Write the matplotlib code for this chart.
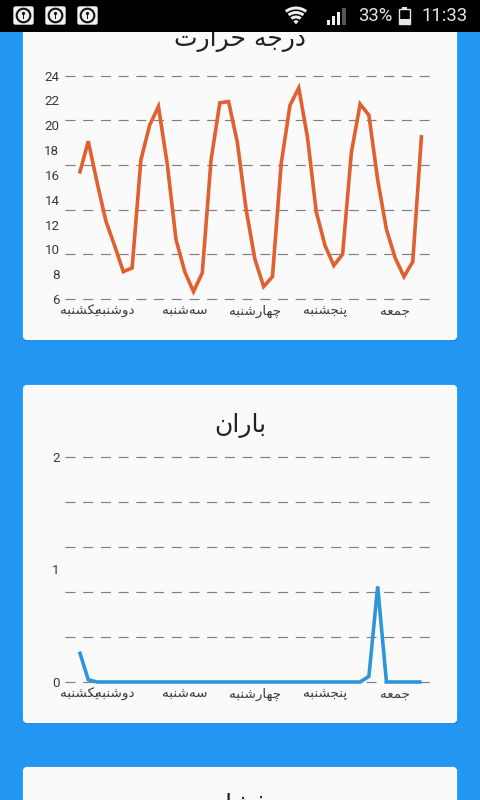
import matplotlib
matplotlib.use("Agg")
import matplotlib.pyplot as plt
from matplotlib.patches import Rectangle, FancyBboxPatch, Circle, Wedge
import numpy as np

# Weather forecast, one reading every three hours over five days
temperature = [16.1, 18.7, 15.4, 12.3, 10.3, 8.2, 8.5, 17.2,
               20.0, 21.5, 16.9, 10.8, 8.2, 6.6, 8.1, 17.2,
               21.8, 21.9, 18.6, 13.2, 9.2, 7.0, 7.8, 16.9,
               21.6, 23.0, 19.0, 13.0, 10.3, 8.7, 9.6, 17.8,
               21.7, 20.8, 15.6, 11.6, 9.3, 7.8, 9.0, 19.2]
rain = [0.27, 0.02, 0, 0, 0, 0, 0, 0,
        0, 0, 0, 0, 0, 0, 0, 0,
        0, 0, 0, 0, 0, 0, 0, 0,
        0, 0, 0, 0, 0, 0, 0, 0,
        0, 0.05, 0.85, 0, 0, 0, 0, 0]
day_ticks = [0, 4, 12, 20, 28, 36]
day_names = ["یکشنبه", "دوشنبه", "سه\u200cشنبه", "چهارشنبه", "پنجشنبه", "جمعه"]
temp_ticks = [6, 8, 10, 12, 14, 16, 18, 20, 22, 24]
rain_ticks = [0, 1, 2]
titles = ["درجه حرارت", "باران", "فشار"]

W, H = 480, 800
BLUE = "#2196F3"
CARD = "#FAFAFA"
ORANGE = "#E0602F"
SKY = "#2E96D8"
GRID = "#808080"
TICK = "#3A3A3A"

# Contextual forms: isolated, final, initial, medial
FORMS = {
    "ا": (0xFE8D, 0xFE8E), "د": (0xFEA9, 0xFEAA), "ر": (0xFEAD, 0xFEAE),
    "ز": (0xFEAF, 0xFEB0), "و": (0xFEED, 0xFEEE),
    "ب": (0xFE8F, 0xFE90, 0xFE91, 0xFE92), "پ": (0xFB56, 0xFB57, 0xFB58, 0xFB59),
    "ت": (0xFE95, 0xFE96, 0xFE97, 0xFE98), "ج": (0xFE9D, 0xFE9E, 0xFE9F, 0xFEA0),
    "چ": (0xFB7A, 0xFB7B, 0xFB7C, 0xFB7D), "ح": (0xFEA1, 0xFEA2, 0xFEA3, 0xFEA4),
    "س": (0xFEB1, 0xFEB2, 0xFEB3, 0xFEB4), "ش": (0xFEB5, 0xFEB6, 0xFEB7, 0xFEB8),
    "ع": (0xFEC9, 0xFECA, 0xFECB, 0xFECC), "ف": (0xFED1, 0xFED2, 0xFED3, 0xFED4),
    "ک": (0xFB8E, 0xFB8F, 0xFB90, 0xFB91), "م": (0xFEE1, 0xFEE2, 0xFEE3, 0xFEE4),
    "ن": (0xFEE5, 0xFEE6, 0xFEE7, 0xFEE8), "ه": (0xFEE9, 0xFEEA, 0xFEEB, 0xFEEC),
    "ی": (0xFBFC, 0xFBFD, 0xFBFE, 0xFBFF),
}


def shape(text):
    """Join Persian letters and lay them out left to right for drawing."""
    out = []
    for i, ch in enumerate(text):
        if ch not in FORMS:
            if ch != "\u200c":
                out.append(ch)
            continue
        prev = text[i - 1] if i else ""
        nxt = text[i + 1] if i + 1 < len(text) else ""
        joins_prev = prev in FORMS and len(FORMS[prev]) == 4
        joins_next = nxt in FORMS and len(FORMS[ch]) == 4
        forms = FORMS[ch]
        if joins_prev and joins_next:
            code = forms[3]
        elif joins_prev:
            code = forms[1]
        elif joins_next:
            code = forms[2]
        else:
            code = forms[0]
        out.append(chr(code))
    return "".join(reversed(out))


fig = plt.figure(figsize=(W / 100, H / 100), dpi=100, facecolor=BLUE)


def pixel_axes(left, top, right, bottom, zorder):
    ax = fig.add_axes([left / W, 1 - bottom / H, (right - left) / W, (bottom - top) / H],
                      zorder=zorder)
    ax.patch.set_alpha(0)
    return ax


# Page background: cards on the blue screen
page = pixel_axes(0, 0, W, H, 0)
page.set_xlim(0, W)
page.set_ylim(H, 0)
page.axis("off")
for top, bottom in [(-20, 340), (385, 723), (767, 860)]:
    page.add_patch(Rectangle((24, top + 1), 433, bottom - top, fc="#1D86DA", ec="none", zorder=1))
    page.add_patch(FancyBboxPatch((25, top + 2), 430, bottom - top - 4,
                                  boxstyle="round,pad=0,rounding_size=2",
                                  mutation_aspect=1, fc=CARD, ec=CARD, lw=3, zorder=2))
for title, yc in zip(titles, [39.5, 425, 805]):
    page.text(240, yc, shape(title), ha="center", va="center", fontsize=18,
              color="#222222", family="DejaVu Sans", zorder=3)


def line_chart(top, bottom, values, ymin, ymax, yticks, color):
    left, right = 65, 431
    first_x, step = 79.5, 8.77
    ax = pixel_axes(left, top, right, bottom, 1)
    ax.set_xlim((left - first_x) / step, (right - first_x) / step)
    ax.set_ylim(ymin, ymax)
    for s in ax.spines.values():
        s.set_visible(False)
    # Six evenly spaced guide lines, independent of the value ticks
    for frac in np.linspace(0, 1, 6):
        ax.plot([0, 1], [frac, frac], transform=ax.transAxes, color=GRID, lw=0.85,
                linestyle=(0, (8.5, 6.5)), dash_capstyle="butt", clip_on=False, zorder=1)
    ax.plot(range(len(values)), values, color=color, lw=2.6, solid_joinstyle="miter",
            solid_capstyle="butt", clip_on=False, zorder=2)
    ax.set_yticks(yticks, [str(v) for v in yticks], fontfamily="Roboto", fontsize=9.6, color=TICK)
    ax.set_xticks(day_ticks, [shape(d) for d in day_names], fontfamily="DejaVu Sans",
                  fontsize=9.7, color=TICK)
    ax.tick_params(axis="y", length=0, pad=4)
    ax.tick_params(axis="x", length=0, pad=4)
    return ax


line_chart(75.5, 299, temperature, 6, 24, temp_ticks, ORANGE)
line_chart(457, 682, rain, 0, 2, rain_ticks, SKY)

# Phone status bar
bar = pixel_axes(0, 0, W, H, 3)
bar.set_xlim(0, W)
bar.set_ylim(H, 0)
bar.axis("off")
bar.add_patch(Rectangle((0, 0), W, 32, fc="black", ec="none", zorder=1))
for x in (13, 45, 77):
    bar.add_patch(FancyBboxPatch((x + 1, 7), 19, 17, boxstyle="round,pad=0,rounding_size=1.5",
                                 fc="#F2F2F2", ec="#F2F2F2", lw=1, zorder=2))
    bar.add_patch(Circle((x + 10.5, 15.5), 6.8, fc="#F2F2F2", ec="#111111", lw=1.5, zorder=3))
    bar.add_patch(Circle((x + 10.5, 13.5), 1.6, fc="#111111", ec="none", zorder=4))
    bar.add_patch(Rectangle((x + 9.7, 14), 1.6, 4.5, fc="#111111", ec="none", zorder=4))

# Wi-Fi fan
for inner, outer in [(0, 4.3), (6, 9), (10.5, 13.5), (15, 18)]:
    bar.add_patch(Wedge((296, 24.5), outer, 232, 308, width=outer - inner, fc="#F0F0F0", ec="none", zorder=2))

# Signal strength bars
for x, h, c in [(326.5, 5, "#F0F0F0"), (331.5, 9, "#F0F0F0"), (336.5, 13, "#F0F0F0"), (342, 17, "#555555")]:
    bar.add_patch(Rectangle((x, 24.5 - h), 3.8, h, fc=c, ec="none", zorder=2))

bar.text(375, 16, "33%", ha="center", va="center", fontsize=13.2, color="#E6E6E6",
         family="Roboto", zorder=2)
bar.add_patch(Rectangle((399, 8.5), 10.5, 15.5, fc="black", ec="#E6E6E6", lw=1, zorder=2))
bar.add_patch(Rectangle((402, 6.5), 4.5, 2, fc="#E6E6E6", ec="none", zorder=2))
bar.add_patch(Rectangle((399, 19), 10.5, 5, fc="#E6E6E6", ec="none", zorder=3))
bar.text(445, 16, "11:33", ha="center", va="center", fontsize=13.2, color="#E6E6E6",
         family="Roboto", zorder=2)

fig.savefig("out.png", dpi=100, facecolor=fig.get_facecolor())
